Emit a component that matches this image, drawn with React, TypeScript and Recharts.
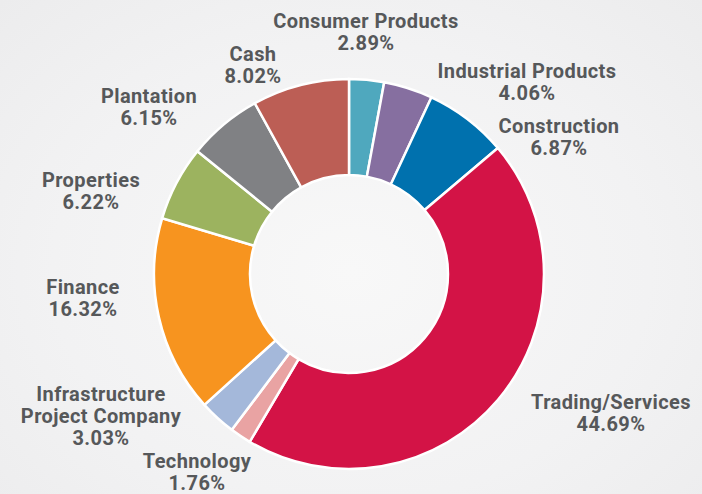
import { PieChart, Pie, Cell } from 'recharts'

document.body.style.margin = '0'

const sectors = [
  'Consumer Products',
  'Industrial Products',
  'Construction',
  'Trading/Services',
  'Technology',
  'Infrastructure Project Company',
  'Finance',
  'Properties',
  'Plantation',
  'Cash',
]
const shares = [2.89, 4.06, 6.87, 44.69, 1.76, 3.03, 16.32, 6.22, 6.15, 8.02]
const colors = [
  '#4fa8be',
  '#866fa0',
  '#0071ae',
  '#d31346',
  '#e9a3a3',
  '#a4b8da',
  '#f7941f',
  '#9cb35f',
  '#808184',
  '#bc5e55',
]

// label lines per sector (wrapped by hand like the original)
const labelLines: string[][] = [
  ['Consumer Products'],
  ['Industrial Products'],
  ['Construction'],
  ['Trading/Services'],
  ['Technology'],
  ['Infrastructure', 'Project Company'],
  ['Finance'],
  ['Properties'],
  ['Plantation'],
  ['Cash'],
]

// baseline of each label's first line, relative to the pie centre
const labelOffsets: [number, number][] = [
  [17, -246],
  [178, -196],
  [210, -141],
  [262, 135],
  [-152, 194],
  [-248, 127],
  [-266, 20],
  [-258, -87],
  [-200, -171],
  [-96, -213],
]

const data = sectors.map((name, i) => ({ name, value: shares[i] }))

const TEXT = '#56585a'

function renderLabel(props: any) {
  const { cx, cy, index } = props
  const [dx, dy] = labelOffsets[index]
  const lines = [...labelLines[index], shares[index].toFixed(2) + '%']
  return (
    <text
      key={'lbl-' + index}
      x={cx + dx}
      y={cy + dy}
      textAnchor="middle"
      fill={TEXT}
      fontFamily="Roboto, 'DejaVu Sans', sans-serif"
      fontWeight={700}
      fontSize={20}
      letterSpacing={0.4}
    >
      {lines.map((l, j) => (
        <tspan key={j} x={cx + dx} dy={j === 0 ? 0 : 22}>
          {l}
        </tspan>
      ))}
    </text>
  )
}

export default function App() {
  return (
    <div
      style={{
        width: 702,
        height: 494,
        background: 'radial-gradient(ellipse at 50% 55%, #f8f8f8 0%, #f2f2f3 60%, #ececed 100%)',
      }}
    >
      <PieChart width={702} height={494} margin={{ top: 0, right: 0, bottom: 0, left: 0 }}>
        <Pie
          data={data}
          dataKey="value"
          nameKey="name"
          cx={349}
          cy={274}
          innerRadius={99}
          outerRadius={195}
          startAngle={90}
          endAngle={-270}
          stroke="#ffffff"
          strokeWidth={2.5}
          label={renderLabel}
          labelLine={false}
          isAnimationActive={false}
        >
          {data.map((d, i) => (
            <Cell key={d.name} fill={colors[i]} />
          ))}
        </Pie>
      </PieChart>
    </div>
  )
}
